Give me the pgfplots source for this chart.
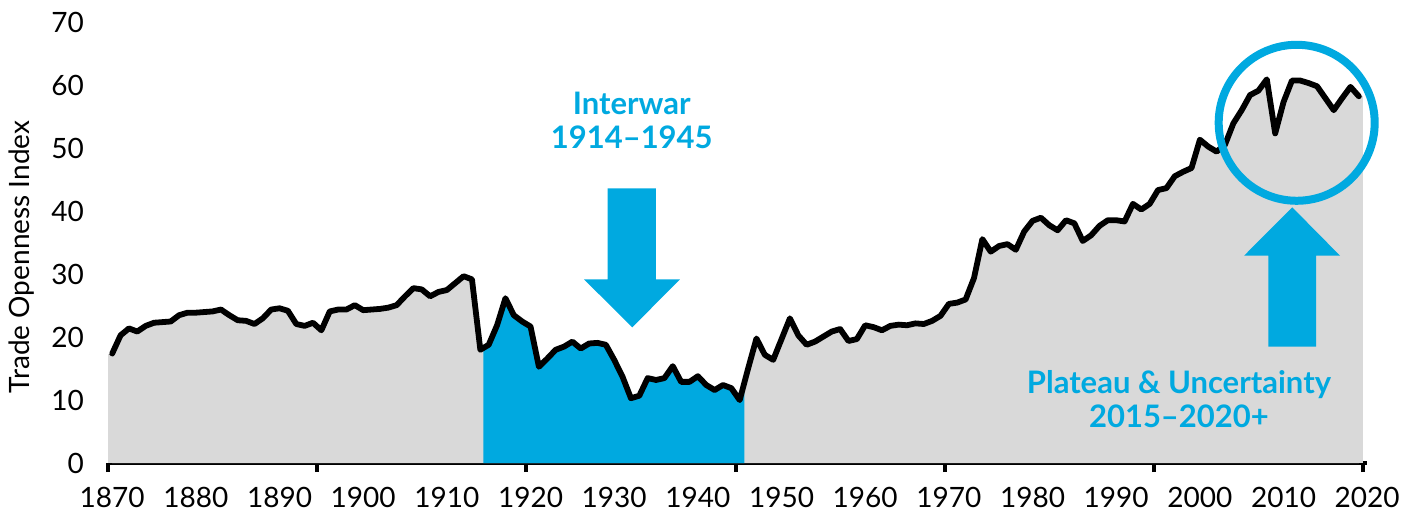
\documentclass[border=0pt]{standalone}
\usepackage{fontspec}
\setmainfont{Lato}
\usepackage{pgfplots}
\pgfplotsset{compat=1.18}
\usepackage{pgfplotstable}
\definecolor{ibblue}{RGB}{0,169,224}
\definecolor{areagray}{RGB}{217,217,217}

\pgfplotstableread{
year val
1870 17.4
1871 20.3
1872 21.4
1873 20.9
1874 21.8
1875 22.3
1876 22.4
1877 22.5
1878 23.5
1879 23.9
1880 23.9
1881 24.0
1882 24.1
1883 24.4
1884 23.5
1885 22.7
1886 22.6
1887 22.1
1888 23.0
1889 24.4
1890 24.6
1891 24.2
1892 22.1
1893 21.8
1894 22.3
1895 21.1
1896 24.1
1897 24.4
1898 24.4
1899 25.1
1900 24.3
1901 24.4
1902 24.5
1903 24.7
1904 25.1
1905 26.5
1906 27.8
1907 27.6
1908 26.5
1909 27.2
1910 27.5
1911 28.6
1912 29.7
1913 29.2
1914 18.0
1915 18.8
1916 21.9
1917 26.2
1918 23.5
1919 22.5
1920 21.7
1921 15.3
1922 16.6
1923 18.0
1924 18.5
1925 19.3
1926 18.2
1927 19.0
1928 19.1
1929 18.8
1930 16.4
1931 13.7
1932 10.3
1933 10.7
1934 13.5
1935 13.2
1936 13.5
1937 15.4
1938 12.9
1939 12.9
1940 13.8
1941 12.4
1942 11.6
1943 12.4
1944 11.9
1945 10.0
1946 15.0
1947 19.8
1948 17.2
1949 16.4
1950 19.7
1951 23.0
1952 20.3
1953 18.8
1954 19.3
1955 20.1
1956 20.9
1957 21.3
1958 19.4
1959 19.7
1960 21.9
1961 21.6
1962 21.1
1963 21.8
1964 22.0
1965 21.9
1966 22.2
1967 22.1
1968 22.6
1969 23.4
1970 25.3
1971 25.5
1972 26.0
1973 29.4
1974 35.6
1975 33.6
1976 34.5
1977 34.8
1978 33.9
1979 36.8
1980 38.5
1981 39.0
1982 37.8
1983 37.0
1984 38.6
1985 38.1
1986 35.3
1987 36.2
1988 37.7
1989 38.6
1990 38.6
1991 38.4
1992 41.2
1993 40.3
1994 41.2
1995 43.4
1996 43.7
1997 45.6
1998 46.3
1999 46.9
2000 51.4
2001 50.3
2002 49.5
2003 50.6
2004 54.0
2005 56.1
2006 58.5
2007 59.2
2008 61.0
2009 52.4
2010 57.4
2011 60.8
2012 60.8
2013 60.4
2014 59.9
2015 58.0
2016 56.1
2017 58.0
2018 59.8
2019 58.3
}\tradedata

\begin{document}
\begin{tikzpicture}
\begin{axis}[
  scale only axis,
  width=629.6pt, height=220.15pt,
  xmin=1869.5, xmax=2020, ymin=0, ymax=70,
  axis x line*=bottom, axis y line*=left,
  x axis line style={line width=2pt,-},
  y axis line style={draw=none},
  xtick={1870,1880,...,2020},
  ytick={0,10,...,70},
  major tick length=0pt,
  /pgf/number format/1000 sep={},
  tick label style={font=\fontsize{14}{16}\selectfont, /pgf/number format/assume math mode=true},
  xticklabel style={yshift=-8.4pt},
  yticklabel style={xshift=-8.5pt},
  extra x ticks={1869.5,1894.5,1919.5,1944.5,1969.5,1994.5,2019.5},
  extra x tick labels={{},{},{},{},{},{},{}},
  extra x tick style={major tick length=4.5pt, tick align=outside, tick style={line width=2pt, black}},
  every axis y label/.style={at={(rel axis cs:-0.0683,0.468)}, rotate=90, anchor=center},
  ylabel={\fontsize{14}{16}\selectfont Trade Openness Index},
  clip=false,
]
% gray area
\addplot[fill=areagray, draw=none] table[x=year,y=val] {\tradedata} \closedcycle;
\addplot[fill=areagray, draw=none] coordinates {(1869.5,17.4) (1870.05,17.4)} \closedcycle;
\addplot[fill=areagray, draw=none] coordinates {(2018.95,58.3) (2019.5,58.3)} \closedcycle;
% interwar area
\addplot[fill=ibblue, draw=none] coordinates {
(1914.36,18.3) (1915,18.8) (1916,21.9) (1917,26.2) (1918,23.5) (1919,22.5) (1920,21.7)
(1921,15.3) (1922,16.6) (1923,18.0) (1924,18.5) (1925,19.3) (1926,18.2) (1927,19.0)
(1928,19.1) (1929,18.8) (1930,16.4) (1931,13.7) (1932,10.3) (1933,10.7) (1934,13.5)
(1935,13.2) (1936,13.5) (1937,15.4) (1938,12.9) (1939,12.9) (1940,13.8) (1941,12.4)
(1942,11.6) (1943,12.4) (1944,11.9) (1945,10.0) (1945.55,12.7)} \closedcycle;
% line
\addplot[black, line width=2.9pt, line join=round, line cap=round] table[x=year,y=val] {\tradedata};

% annotations
\fill[ibblue] (axis cs:1929.22,43.67) -- (axis cs:1934.99,43.67) -- (axis cs:1934.99,29.2)
  -- (axis cs:1937.86,29.2) -- (axis cs:1932.16,21.57) -- (axis cs:1926.39,29.2)
  -- (axis cs:1929.22,29.2) -- cycle;
\fill[ibblue] (axis cs:2008.18,18.49) -- (axis cs:2013.88,18.49) -- (axis cs:2013.88,32.96)
  -- (axis cs:2016.75,32.96) -- (axis cs:2011.04,40.65) -- (axis cs:2005.28,32.96)
  -- (axis cs:2008.18,32.96) -- cycle;
\draw[ibblue, line width=4pt] (axis cs:2011.57,54.09) circle[radius=39pt];
\node[text=ibblue, align=center, font=\fontsize{15.5}{17}\selectfont\bfseries]
  at (axis cs:1932.1,54.53) {Interwar\\1914–1945};
\node[text=ibblue, align=center, font=\fontsize{15.5}{17}\selectfont\bfseries]
  at (axis cs:1997.5,10.14) {Plateau \& Uncertainty\\2015–2020+};

\coordinate (bbSW) at (axis cs:1856.59,-7.79);
\coordinate (bbNE) at (axis cs:2026.07,73.61);
\end{axis}
\pgfresetboundingbox
\path[use as bounding box] (bbSW) rectangle (bbNE);
\end{tikzpicture}
\end{document}
